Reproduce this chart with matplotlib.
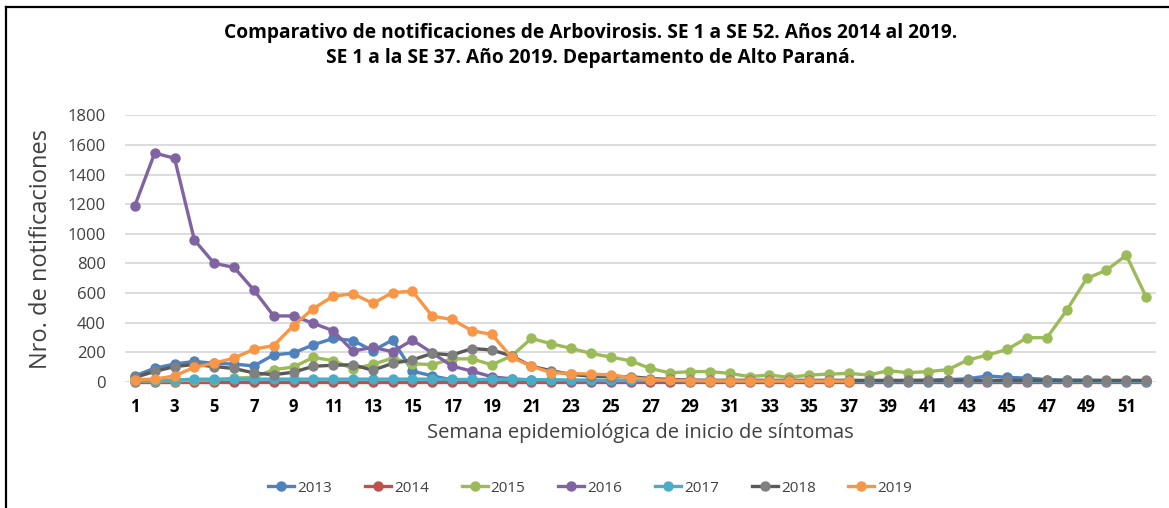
import matplotlib
matplotlib.use("Agg")
import matplotlib.pyplot as plt
from matplotlib.lines import Line2D

plt.rcParams['font.family'] = ['Open Sans', 'DejaVu Sans']

weeks = list(range(1, 53))

s2013 = [40, 92, 120, 138, 125, 120, 107, 182, 195, 250, 293, 279, 210, 283, 72, 40, 13, 10, 8, 8,
         6, 5, 5, 5, 5, 4, 4, 3, 3, 3, 3, 3, 3, 3, 3, 3, 4, 5, 6, 8,
         10, 15, 20, 40, 30, 25, 15, 10, 10, 8, 6, 5]
s2014 = [2] * 52
s2015 = [5, 5, 8, 10, 12, 25, 30, 82, 100, 165, 143, 88, 118, 160, 122, 116, 155, 155, 115, 175,
         293, 257, 226, 192, 167, 142, 90, 60, 69, 69, 57, 35, 46, 30, 46, 52, 57, 46, 75, 62,
         69, 82, 147, 181, 219, 298, 298, 484, 698, 754, 855, 574]
s2016 = [1190, 1545, 1510, 958, 800, 773, 620, 445, 445, 395, 345, 208, 233, 203, 282, 195, 106, 72, 34, 20,
         12, 10, 8, 6, 5, 5, 5, 5, 5, 5, 5, 5, 5, 5, 5, 5, 5, 5, 5, 5,
         5, 5, 5, 5, 5, 5, 5, 5, 5, 5, 5, 5]
s2017 = [8, 8, 12, 18, 18, 18, 18, 18, 18, 18, 18, 18, 18, 18, 18, 18, 16, 16, 16, 16,
         15, 14, 12, 12, 10, 10, 10, 10, 8, 8, 8, 8, 7, 7, 7, 7, 6, 6, 6, 6,
         6, 6, 6, 6, 6, 6, 5, 5, 5, 5, 5, 5]
s2018 = [30, 70, 103, 117, 103, 90, 60, 48, 65, 105, 112, 115, 78, 125, 148, 192, 181, 225, 215, 175,
         105, 75, 50, 38, 35, 35, 22, 16, 12, 10, 10, 10, 10, 10, 10, 10, 10, 10, 10, 10,
         10, 10, 10, 10, 10, 10, 10, 10, 10, 10, 10, 10]
s2019 = [15, 18, 40, 98, 126, 160, 220, 245, 380, 495, 578, 595, 530, 603, 612, 443, 421, 345, 320, 165,
         105, 62, 56, 52, 47, 28, 15, 10, 8, 6, 6, 5, 5, 5, 5, 5, 5]

series = [
    ("2013", s2013, "#4F81BD", "#4F81BD"),
    ("2014", s2014, "#C0504D", "#C0504D"),
    ("2015", s2015, "#9BBB59", "#9BBB59"),
    ("2016", s2016, "#8064A2", "#8064A2"),
    ("2017", s2017, "#4BACC6", "#4BACC6"),
    ("2018", s2018, "#5A5A5A", "#808080"),
    ("2019", s2019, "#F79646", "#F79646"),
]

fig = plt.figure(figsize=(11.69, 5.08), dpi=100)
ax = fig.add_axes([0.1069, 0.2484, 0.882, 0.5246])

for name, vals, lc, mc in series:
    ax.plot(weeks[:len(vals)], vals, color=lc, lw=2.4, marker='o', ms=6.5,
            markerfacecolor=mc, markeredgecolor=mc, label=name, clip_on=False, zorder=3)

ax.set_xlim(0.5, 52.5)
ax.set_ylim(0, 1800)
ax.set_yticks(range(0, 1801, 200))
ax.set_xticks(range(1, 52, 2))
ax.grid(axis='y', color='#D9D9D9', lw=1.3, zorder=0)
for sp in ax.spines.values():
    sp.set_visible(False)
ax.tick_params(length=0)
ax.tick_params(axis='y', labelsize=12, labelcolor='#404040', pad=14)
ax.tick_params(axis='x', labelsize=12, pad=12)
for lbl in ax.get_xticklabels():
    lbl.set_fontweight('bold')

ax.set_ylabel("Nro. de notificaciones", fontsize=17, color='#404040', labelpad=10)
ax.set_xlabel("Semana epidemiológica de inicio de síntomas", fontsize=14.5, color='#404040', labelpad=5)

fig.text(0.505, 0.935, "Comparativo de notificaciones de Arbovirosis. SE 1 a SE 52. Años 2014 al 2019.",
         ha='center', va='center', fontsize=13.8, fontweight='bold')
fig.text(0.505, 0.885, "SE 1 a la SE 37. Año 2019. Departamento de Alto Paraná.",
         ha='center', va='center', fontsize=13.8, fontweight='bold')

handles = [Line2D([0], [0], color=lc, lw=2.4, marker='o', ms=6.5,
                  markerfacecolor=mc, markeredgecolor=mc) for _, _, lc, mc in series]
fig.legend(handles, [s[0] for s in series], loc='center', bbox_to_anchor=(0.505, 0.039),
           ncol=7, frameon=False, fontsize=11, labelcolor='#404040',
           handlelength=1.7, columnspacing=2.15, handletextpad=0.2)

# frame lines on the left and top edge
fig.add_artist(Line2D([0.0055, 0.0055], [0, 0.986], color='black', lw=1.6, transform=fig.transFigure))
fig.add_artist(Line2D([0.0055, 1.0], [0.986, 0.986], color='black', lw=1.6, transform=fig.transFigure))

fig.savefig("out.png", dpi=100)
